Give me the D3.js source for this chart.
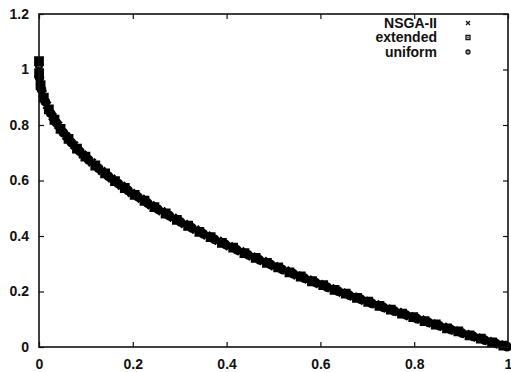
<!DOCTYPE html>
<html>
<head>
<meta charset="utf-8">
<script src="https://cdn.jsdelivr.net/npm/d3@7"></script>
<style>
  body { margin: 0; background: #fff; }
  text { font-family: "Liberation Sans", Arial, sans-serif; font-weight: bold; font-size: 14px; fill: #111; }
</style>
</head>
<body>
<div id="chart"></div>
<script>
// tick labels
var xTicks = [0, 0.2, 0.4, 0.6, 0.8, 1];
var yTicks = [0, 0.2, 0.4, 0.6, 0.8, 1, 1.2];
var seriesNames = ["NSGA-II", "extended", "uniform"];

var nsga = [[0,1.000],[0.0019,0.957],[0.0075,0.913],[0.017,0.871],[0.029,0.830],[0.041,0.799],
  [0.058,0.760],[0.075,0.727],[0.093,0.694],[0.113,0.665],[0.134,0.634],[0.155,0.607],
  [0.176,0.581],[0.197,0.555],[0.218,0.534],[0.239,0.511],[0.262,0.489],[0.286,0.466],
  [0.310,0.443],[0.334,0.423],[0.358,0.402],[0.382,0.383],[0.406,0.363],[0.430,0.345],
  [0.454,0.326],[0.478,0.310],[0.502,0.291],[0.526,0.276],[0.550,0.258],[0.574,0.243],
  [0.598,0.227],[0.622,0.212],[0.646,0.196],[0.670,0.182],[0.694,0.167],[0.718,0.154],
  [0.742,0.139],[0.766,0.126],[0.790,0.111],[0.814,0.099],[0.838,0.085],[0.862,0.073],
  [0.886,0.059],[0.910,0.047],[0.934,0.034],[0.958,0.022],[0.982,0.009]];

var extended = [[0,1.030],[0.0002,0.987],[0.0033,0.944],[0.0102,0.899],[0.021,0.856],[0.033,0.819],
  [0.046,0.786],[0.063,0.750],[0.081,0.715],[0.099,0.686],[0.120,0.654],[0.141,0.626],
  [0.162,0.598],[0.183,0.573],[0.204,0.548],[0.225,0.527],[0.246,0.504],[0.270,0.481],
  [0.294,0.458],[0.318,0.437],[0.342,0.415],[0.366,0.396],[0.390,0.375],[0.414,0.358],
  [0.438,0.338],[0.462,0.321],[0.486,0.303],[0.510,0.287],[0.534,0.269],[0.558,0.254],
  [0.582,0.237],[0.606,0.223],[0.630,0.206],[0.654,0.192],[0.678,0.177],[0.702,0.163],
  [0.726,0.148],[0.750,0.135],[0.774,0.120],[0.798,0.108],[0.822,0.093],[0.846,0.081],
  [0.870,0.067],[0.894,0.056],[0.918,0.042],[0.942,0.030],[0.966,0.017],[0.990,0.005]];

var uniform = [[0.0008,0.972],[0.0052,0.928],[0.0135,0.884],[0.025,0.842],[0.037,0.808],
  [0.052,0.772],[0.069,0.737],[0.087,0.705],[0.106,0.674],[0.127,0.644],[0.148,0.615],
  [0.169,0.589],[0.190,0.564],[0.211,0.541],[0.232,0.518],[0.254,0.496],[0.278,0.473],
  [0.302,0.450],[0.326,0.429],[0.350,0.408],[0.374,0.388],[0.398,0.369],[0.422,0.350],
  [0.446,0.332],[0.470,0.314],[0.494,0.297],[0.518,0.280],[0.542,0.264],[0.566,0.248],
  [0.590,0.232],[0.614,0.216],[0.638,0.201],[0.662,0.186],[0.686,0.172],[0.710,0.157],
  [0.734,0.143],[0.758,0.129],[0.782,0.116],[0.806,0.102],[0.830,0.089],[0.854,0.076],
  [0.878,0.063],[0.902,0.050],[0.926,0.038],[0.950,0.025],[0.974,0.013],[0.998,0.001]];

var margin = {top: 14, right: 3, bottom: 25, left: 39},
    width = 511 - margin.left - margin.right,
    height = 372 - margin.top - margin.bottom;

var x = d3.scaleLinear().domain([0, 1]).range([0, width]);
var y = d3.scaleLinear().domain([0, 1.2]).range([height, 0]);

var svg = d3.select("#chart").append("svg")
    .attr("width", 511)
    .attr("height", 372)
  .append("g")
    .attr("transform", "translate(" + margin.left + "," + margin.top + ")");

// marker shapes, gnuplot style
function markPath(kind, s) {
  if (kind === 0) return "M" + (-s) + "," + (-s) + "L" + s + "," + s + "M" + (-s) + "," + s + "L" + s + "," + (-s);
  if (kind === 1) return "M" + (-s) + "," + (-s) + "H" + s + "V" + s + "H" + (-s) + "Z";
  var p = d3.path();
  p.moveTo(s, 0);
  p.arc(0, 0, s, 0, 2 * Math.PI);
  return p.toString();
}

var all = [nsga, extended, uniform];

all.forEach(function(data, k) {
  svg.append("g").selectAll("path")
      .data(data)
    .enter().append("path")
      .attr("transform", d => "translate(" + x(d[0]) + "," + y(d[1]) + ")")
      .attr("d", markPath(k, 3.6))
      .attr("fill", "#000")
      .attr("stroke", "#000")
      .attr("stroke-width", 2.6);
});

// Add the axes, ticks inward and mirrored
var tick = 5;
svg.append("g")
    .attr("transform", "translate(0," + height + ")")
    .call(d3.axisBottom(x).tickValues(xTicks).tickSizeInner(-tick).tickSizeOuter(0).tickPadding(12)
      .tickFormat(d3.format("")));
svg.append("g")
    .call(d3.axisTop(x).tickValues(xTicks).tickSizeInner(-tick).tickSizeOuter(0).tickFormat(""));
svg.append("g")
    .call(d3.axisLeft(y).tickValues(yTicks).tickSizeInner(-tick).tickSizeOuter(0).tickPadding(10)
      .tickFormat(d3.format("")));
svg.append("g")
    .attr("transform", "translate(" + width + ",0)")
    .call(d3.axisRight(y).tickValues(yTicks).tickSizeInner(-tick).tickSizeOuter(0).tickFormat(""));

svg.selectAll(".domain").remove();
svg.selectAll(".tick line").attr("stroke", "#111").attr("stroke-width", 1.2);
svg.selectAll(".tick text").attr("fill", "#111").style("font-size", "14px");

svg.append("rect")
    .attr("width", width)
    .attr("height", height)
    .attr("fill", "none")
    .attr("stroke", "#111")
    .attr("stroke-width", 1.6);

// legend
var legend = svg.append("g").selectAll("g")
    .data(seriesNames)
  .enter().append("g")
    .attr("transform", (d, i) => "translate(0," + (9 + i * 14.5) + ")");
legend.append("text")
    .attr("x", 398)
    .attr("dy", "0.35em")
    .attr("text-anchor", "end")
    .text(d => d);
legend.append("path")
    .attr("transform", "translate(429,0)")
    .attr("d", (d, i) => markPath(i, 2))
    .attr("fill", "none")
    .attr("stroke", "#111")
    .attr("stroke-width", 1.3);
legend.filter((d, i) => i > 0).append("circle")
    .attr("cx", 429)
    .attr("r", 0.8)
    .attr("fill", "#111");
</script>
</body>
</html>
